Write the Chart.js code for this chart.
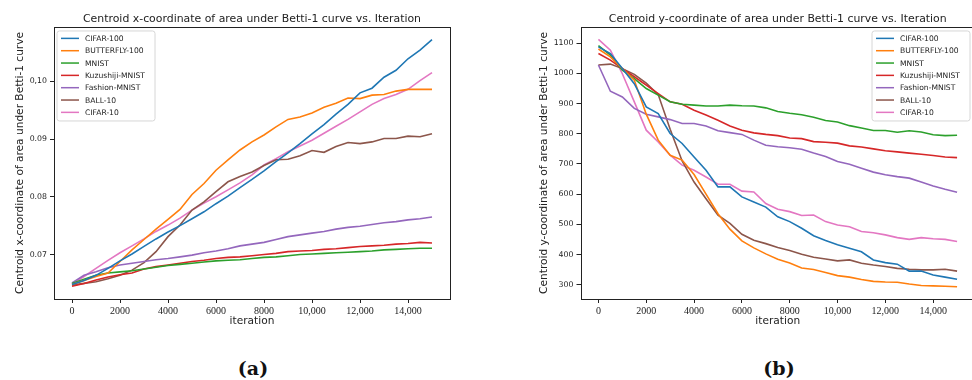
<!DOCTYPE html>
<html>
<head>
<meta charset="utf-8">
<script src="https://cdn.jsdelivr.net/npm/chart.js@4.4.1/dist/chart.umd.min.js"></script>
<style>
  html, body { margin: 0; padding: 0; background: #fff; width: 972px; height: 380px; overflow: hidden; position: relative; }
  canvas { position: absolute; top: 0; }
  #cA { left: 0px; }
  #cB { left: 490px; }
  .cap { position: absolute; top: 357px; font-family: "DejaVu Serif", serif; font-weight: bold; font-size: 19px; color: #111; transform: translateX(-50%); }
</style>
</head>
<body>
<canvas id="cA" width="490" height="340"></canvas>
<canvas id="cB" width="500" height="340"></canvas>
<div class="cap" style="left:253px">(a)</div>
<div class="cap" style="left:779px">(b)</div>
<script>
// ---------- data ----------
const iterations = [0,500,1000,1500,2000,2500,3000,3500,4000,4500,5000,5500,6000,6500,7000,7500,8000,8500,9000,9500,10000,10500,11000,11500,12000,12500,13000,13500,14000,14500,15000];
const seriesNames = ["CIFAR-100","BUTTERFLY-100","MNIST","Kuzushiji-MNIST","Fashion-MNIST","BALL-10","CIFAR-10"];
const seriesColors = ["#1f77b4","#ff7f0e","#2ca02c","#d62728","#9467bd","#8c564b","#e377c2"];

// (a) centroid x-coordinate
const xCifar100  = [0.0648,0.0655,0.0664,0.0676,0.0689,0.0701,0.0714,0.0727,0.0739,0.0750,0.0762,0.0774,0.0788,0.0801,0.0816,0.0830,0.0845,0.0861,0.0876,0.0892,0.0909,0.0925,0.0943,0.0960,0.0980,0.0988,0.1007,0.1019,0.1039,0.1054,0.1072];
const xButterfly = [0.0648,0.0655,0.0662,0.0668,0.0688,0.0708,0.0726,0.0744,0.0761,0.0778,0.0804,0.0823,0.0846,0.0864,0.0881,0.0895,0.0907,0.0921,0.0934,0.0938,0.0945,0.0955,0.0962,0.0971,0.0970,0.0976,0.0977,0.0983,0.0986,0.0986,0.0986];
const xMnist     = [0.0650,0.0657,0.0664,0.0668,0.0670,0.0672,0.0675,0.0678,0.0681,0.0683,0.0685,0.0687,0.0689,0.0690,0.0691,0.0693,0.0695,0.0696,0.0698,0.0700,0.0701,0.0702,0.0703,0.0704,0.0705,0.0706,0.0708,0.0709,0.0710,0.0711,0.0711];
const xKuzushiji = [0.0645,0.0650,0.0656,0.0661,0.0665,0.0668,0.0675,0.0679,0.0682,0.0685,0.0688,0.0690,0.0693,0.0695,0.0696,0.0698,0.0700,0.0702,0.0705,0.0706,0.0707,0.0709,0.0710,0.0712,0.0714,0.0715,0.0716,0.0718,0.0719,0.0721,0.0720];
const xFashion   = [0.0651,0.0664,0.0670,0.0677,0.0682,0.0685,0.0688,0.0691,0.0693,0.0696,0.0699,0.0703,0.0706,0.0710,0.0715,0.0718,0.0721,0.0726,0.0731,0.0734,0.0737,0.0740,0.0744,0.0747,0.0749,0.0752,0.0755,0.0757,0.0760,0.0762,0.0765];
const xBall      = [0.0647,0.0650,0.0653,0.0658,0.0664,0.0673,0.0686,0.0705,0.0731,0.0751,0.0777,0.0791,0.0809,0.0826,0.0835,0.0843,0.0854,0.0864,0.0865,0.0871,0.0880,0.0877,0.0887,0.0894,0.0892,0.0895,0.0901,0.0901,0.0905,0.0904,0.0909];
const xCifar10   = [0.0649,0.0662,0.0676,0.0690,0.0703,0.0715,0.0727,0.0740,0.0751,0.0763,0.0777,0.0789,0.0800,0.0812,0.0824,0.0838,0.0855,0.0866,0.0878,0.0888,0.0898,0.0910,0.0922,0.0934,0.0947,0.0960,0.0970,0.0977,0.0986,0.1001,0.1015];

// (b) centroid y-coordinate
const yCifar100  = [1088,1066,1016,966,889,867,801,768,723,679,624,624,591,574,557,525,509,487,462,446,432,421,409,382,373,368,345,345,332,325,318];
const yButterfly = [1081,1055,1016,978,865,779,729,713,665,600,535,484,445,422,402,384,372,355,350,340,330,325,317,311,309,308,302,297,296,295,293];
const yMnist     = [1092,1061,1011,983,950,928,906,898,895,892,892,895,893,892,886,874,868,863,855,844,839,827,819,811,811,805,810,806,797,794,795];
const yKuzushiji = [1066,1044,1016,989,961,933,906,898,878,862,845,826,812,803,798,794,786,784,774,772,769,760,756,750,744,740,736,732,728,723,721];
const yFashion   = [1028,941,922,884,865,856,847,834,834,826,810,804,798,779,762,757,754,749,736,725,708,699,686,673,664,658,653,640,627,616,606];
const yBall      = [1028,1031,1016,997,968,930,815,710,640,585,530,503,467,447,436,423,413,401,391,385,379,382,371,365,360,354,351,349,349,351,345];
const yCifar10   = [1113,1077,999,906,812,773,729,696,679,657,633,633,610,607,569,550,542,529,531,509,498,492,476,472,465,456,450,456,452,450,443];

// ticks
const xTickValues = [0,2000,4000,6000,8000,10000,12000,14000];
const xTickLabels = ["0","2000","4000","6000","8000","10,000","12,000","14,000"];
const aTickValues = [0.07,0.08,0.09,0.10];
const aTickLabels = ["0.07","0.08","0.09","0,10"];
const bTickValues = [300,400,500,600,700,800,900,1000,1100];
const bTickLabels = ["300","400","500","600","700","800","900","1000","1100"];

const aTitle = "Centroid x-coordinate of area under Betti-1 curve vs. Iteration";
const bTitle = "Centroid y-coordinate of area under Betti-1 curve vs. Iteration";
const aYLabel = "Centroid x-coordinate of area under Betti-1 curve";
const bYLabel = "Centroid y-coordinate of area under Betti-1 curve";
const xLabel = "iteration";

// ---------- helpers ----------
function makeDatasets(arrs) {
  return arrs.map((arr, k) => ({
    label: seriesNames[k],
    data: iterations.map((it, i) => ({ x: it, y: arr[i] })),
    borderColor: seriesColors[k],
    backgroundColor: seriesColors[k],
    borderWidth: 1.6,
    pointRadius: 0,
    tension: 0,
    fill: false
  }));
}

const spinePlugin = {
  id: 'spines',
  afterDatasetsDraw(chart) {
    const ctx = chart.ctx, ca = chart.chartArea;
    ctx.save();
    ctx.strokeStyle = '#222';
    ctx.lineWidth = 1;
    ctx.strokeRect(Math.round(ca.left) + 0.5, Math.round(ca.top) + 0.5, Math.round(ca.right - ca.left), Math.round(ca.bottom - ca.top));
    ctx.restore();
  }
};

const legendPlugin = {
  id: 'mplLegend',
  afterDraw(chart, args, opts) {
    const ctx = chart.ctx, ca = chart.chartArea;
    const w = 98, h = 90;
    const x0 = opts.side === 'left' ? ca.left + 3 : ca.right - 5 - w;
    const y0 = ca.top + 4;
    ctx.save();
    ctx.beginPath();
    const r = 2.5;
    ctx.moveTo(x0 + r, y0);
    ctx.lineTo(x0 + w - r, y0); ctx.quadraticCurveTo(x0 + w, y0, x0 + w, y0 + r);
    ctx.lineTo(x0 + w, y0 + h - r); ctx.quadraticCurveTo(x0 + w, y0 + h, x0 + w - r, y0 + h);
    ctx.lineTo(x0 + r, y0 + h); ctx.quadraticCurveTo(x0, y0 + h, x0, y0 + h - r);
    ctx.lineTo(x0, y0 + r); ctx.quadraticCurveTo(x0, y0, x0 + r, y0);
    ctx.closePath();
    ctx.fillStyle = 'rgba(255,255,255,0.85)';
    ctx.fill();
    ctx.strokeStyle = '#d6d6d6';
    ctx.lineWidth = 1;
    ctx.stroke();
    ctx.font = '7.6px "DejaVu Sans"';
    ctx.textBaseline = 'middle';
    ctx.textAlign = 'left';
    chart.data.datasets.forEach((ds, i) => {
      const cy = y0 + 7.4 + i * 12.33;
      ctx.strokeStyle = ds.borderColor;
      ctx.lineWidth = 1.5;
      ctx.beginPath();
      ctx.moveTo(x0 + 4, cy); ctx.lineTo(x0 + 22, cy);
      ctx.stroke();
      ctx.fillStyle = '#222';
      ctx.fillText(ds.label, x0 + 28, cy + 0.5);
    });
    ctx.restore();
  }
};

function makeChart(id, cfg) {
  const gridTicks = { display: true, drawOnChartArea: false, drawTicks: true, tickLength: 4, color: '#222', lineWidth: 1 };
  return new Chart(document.getElementById(id), {
    type: 'line',
    data: { datasets: makeDatasets(cfg.arrays) },
    plugins: [spinePlugin, legendPlugin],
    options: {
      responsive: false,
      animation: false,
      devicePixelRatio: 1,
      layout: { padding: { left: cfg.padLeft, right: cfg.padRight, top: 0, bottom: 0 } },
      plugins: {
        legend: { display: false },
        tooltip: { enabled: false },
        title: {
          display: true, text: cfg.title, fullSize: false, color: '#222',
          font: { family: 'DejaVu Sans', size: 10.9, weight: 'normal', lineHeight: 1.2 },
          padding: { top: 12.2, bottom: 1.7 }
        },
        mplLegend: { side: cfg.legendSide }
      },
      scales: {
        x: {
          type: 'linear', min: -750, max: 15750,
          grid: gridTicks,
          border: { display: false },
          afterFit: (s) => { s.height = 41; },
          afterBuildTicks: (s) => { s.ticks = xTickValues.map(v => ({ value: v })); },
          ticks: {
            autoSkip: false, maxRotation: 0, padding: 2, color: '#222',
            font: { family: 'Liberation Serif', size: 10 },
            callback: (v) => xTickLabels[xTickValues.indexOf(v)]
          },
          title: {
            display: true, text: xLabel, color: '#222',
            font: { family: 'DejaVu Sans', size: 10.6, lineHeight: 1.2 },
            padding: { top: 0, bottom: 12 }
          }
        },
        y: {
          type: 'linear', min: cfg.yMin, max: cfg.yMax,
          grid: gridTicks,
          border: { display: false },
          afterFit: (s) => { s.width = cfg.yWidth; },
          afterBuildTicks: (s) => { s.ticks = cfg.yTickValues.map(v => ({ value: v })); },
          ticks: {
            autoSkip: false, padding: 3, color: '#222',
            font: { family: 'DejaVu Sans', size: 7.8 },
            callback: (v) => cfg.yTickLabels[cfg.yTickValues.indexOf(v)]
          },
          title: {
            display: true, text: cfg.yLabel, color: '#222',
            font: { family: 'DejaVu Sans', size: 10.6, lineHeight: 1.2 },
            padding: { top: 13.7, bottom: 0 }
          }
        }
      }
    }
  });
}

makeChart('cA', {
  arrays: [xCifar100, xButterfly, xMnist, xKuzushiji, xFashion, xBall, xCifar10],
  title: aTitle, yLabel: aYLabel,
  yMin: 0.0623, yMax: 0.1094,
  yTickValues: aTickValues, yTickLabels: aTickLabels,
  padLeft: 0, padRight: 40, yWidth: 54, legendSide: 'left'
});
makeChart('cB', {
  arrays: [yCifar100, yButterfly, yMnist, yKuzushiji, yFashion, yBall, yCifar10],
  title: bTitle, yLabel: bYLabel,
  yMin: 252.5, yMax: 1154,
  yTickValues: bTickValues, yTickLabels: bTickLabels,
  padLeft: 34, padRight: 15, yWidth: 56.5, legendSide: 'right'
});
</script>
</body>
</html>
